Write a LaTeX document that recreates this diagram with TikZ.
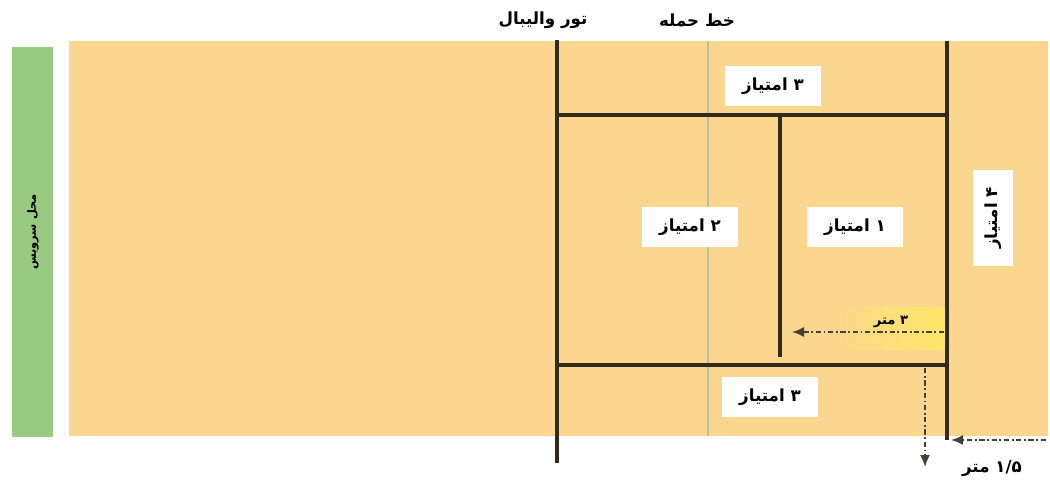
\documentclass[tikz,border=0pt]{standalone}
\usepackage{fontspec}
\newfontfamily\arabicfont[Script=Arabic]{DejaVu Sans}
\TeXXeTstate=1
\usetikzlibrary{arrows.meta,positioning}
\definecolor{courtfill}{RGB}{250,214,142}
\definecolor{servefill}{RGB}{152,202,130}
\definecolor{courtline}{RGB}{50,42,30}
\definecolor{attackline}{RGB}{192,190,168}
\definecolor{hilite}{RGB}{255,230,105}
\newcommand{\fatext}[1]{{\arabicfont\bfseries\beginR #1\endR}}

\begin{document}
\begin{tikzpicture}[x=0.02cm, y=-0.02cm,
  score/.style={fill=white, font=\fontsize{9.5}{12}\selectfont,
    minimum width=1.92cm, minimum height=0.8cm, inner sep=2pt},
  courtln/.style={draw=courtline, line width=2.1pt},
  measure/.style={draw=courtline!90, line width=1pt,
    dash pattern=on 3pt off 1.5pt on 1pt off 1.5pt,
    -{Latex[length=2.4mm,width=2mm]}},
  caption/.style={font=\fontsize{9.5}{12}\selectfont, inner sep=1pt}
]
\useasboundingbox (0,0) rectangle (1050,482);

% service strip and court
\fill[servefill] (12,47) rectangle (53,437);
\fill[courtfill] (69,41) rectangle (1048,436);
\shade[left color=courtfill, right color=hilite] (828,308) rectangle (945,350);

% court lines
\coordinate (netT) at (557,40);   \coordinate (netB) at (557,463);
\coordinate (atkT) at (708,41);   \coordinate (atkB) at (708,436);
\coordinate (endT) at (947,41);   \coordinate (endB) at (947,440);
\coordinate (topL) at (557,115);  \coordinate (topR) at (947,115);
\coordinate (botL) at (557,365);  \coordinate (botR) at (947,365);
\coordinate (midT) at (780,115);  \coordinate (midB) at (780,357);
\draw[attackline, line width=1.3pt] (atkT) -- (atkB);
\draw[courtln] (netT) -- (netB);
\draw[courtln] (endT) -- (endB);
\draw[courtln] (topL) -- (topR);
\draw[courtln] (botL) -- (botR);
\draw[courtln] (midT) -- (midB);

% measures
\coordinate (m3a) at (944,332);  \coordinate (m3b) at (792,332);
\coordinate (mva) at (925,368);  \coordinate (mvb) at (925,467);
\coordinate (mha) at (1046,440); \coordinate (mhb) at (951,440);
\draw[measure] (m3a) -- (m3b);
\draw[measure] (mva) -- (mvb);
\draw[measure] (mha) -- (mhb);

% scores
\node[score] (topthree) at (773,86) {\fatext{۳ امتیاز}};
\node[score] (two) at (690,227) {\fatext{۲ امتیاز}};
\node[score] (one) at (855,227) {\fatext{۱ امتیاز}};
\node[score] (botthree) at (770,397) {\fatext{۳ امتیاز}};
\node[score, rotate=90] (four) at (993,218) {\fatext{۴ امتیاز}};

% captions
\node[caption] (net) at (543,20) {\fatext{تور والیبال}};
\node[caption] (attack) at (697,20) {\fatext{خط حمله}};
\node[caption, font=\fontsize{6.5}{8}\selectfont, rotate=90] (serve) at (33,232) {\fatext{محل سرویس}};
\node[caption, font=\fontsize{7.5}{9}\selectfont] (three m) at (891,322) {\fatext{۳ متر}};
\node[caption] (onehalf) at (992,468) {\fatext{\beginL ۱/۵\endL{} متر}};
\end{tikzpicture}
\end{document}
